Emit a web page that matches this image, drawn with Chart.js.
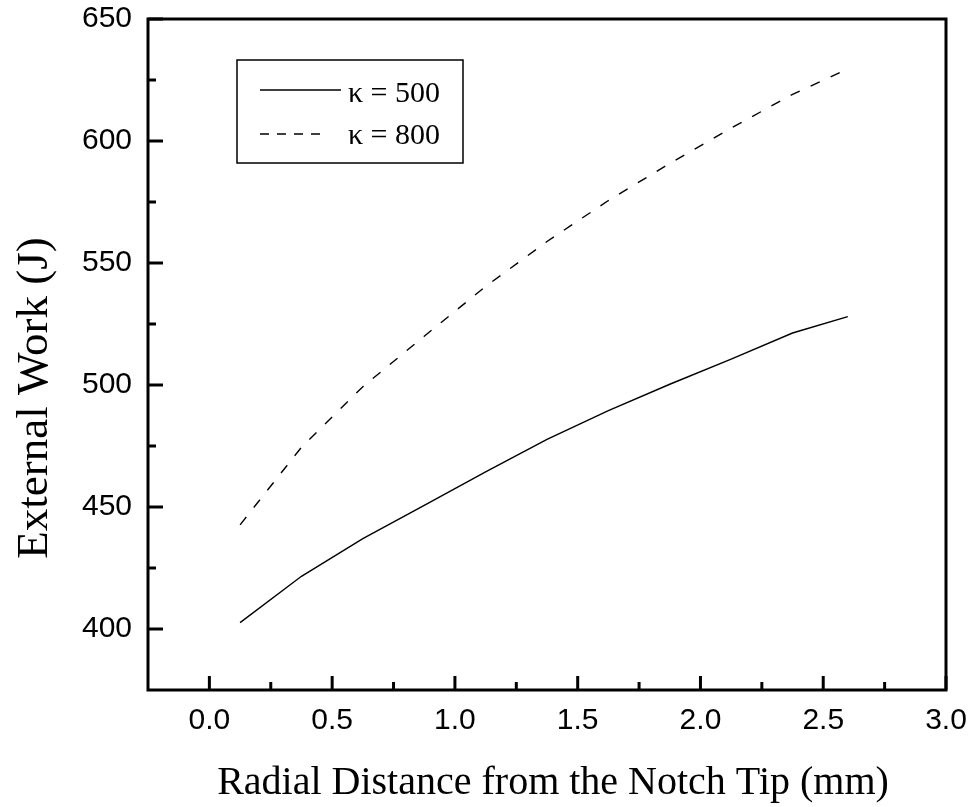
<!DOCTYPE html>
<html>
<head>
<meta charset="utf-8">
<script src="https://cdn.jsdelivr.net/npm/chart.js@4.4.1/dist/chart.umd.min.js"></script>
<style>
html,body{margin:0;padding:0;background:#fff;}
#wrap{width:970px;height:807px;}
</style>
</head>
<body>
<div id="wrap"><canvas id="c" width="970" height="807"></canvas></div>
<script>
const xValues = [0.125, 0.375, 0.625, 0.875, 1.125, 1.375, 1.625, 1.875, 2.125, 2.375, 2.6];
const work500 = [402.6, 421.6, 437.0, 450.7, 464.4, 477.7, 489.5, 500.3, 510.6, 521.3, 528.0];
const work800 = [442.7, 474.5, 499.3, 520.0, 540.4, 558.8, 575.6, 590.8, 605.3, 619.1, 629.5];
const seriesLabels = ['\u03BA = 500', '\u03BA = 800'];
const xMajorTicks = [0.0, 0.5, 1.0, 1.5, 2.0, 2.5, 3.0];
const xMinorTicks = [0.25, 0.75, 1.25, 1.75, 2.25, 2.75];
const yMajorTicks = [400, 450, 500, 550, 600, 650];
const yMinorTicks = [425, 475, 525, 575, 625];
const xTitle = 'Radial Distance from the Notch Tip (mm)';
const yTitle = 'External Work (J)';

const toPts = (xs, ys) => xs.map((v, i) => ({x: v, y: ys[i]}));
const noPad = s => { s.paddingTop = 0; s.paddingBottom = 0; s.paddingLeft = 0; s.paddingRight = 0; };

const framePlugin = {
  id: 'frame',
  afterDraw(chart) {
    const {ctx, chartArea: a, scales: {x, y}} = chart;
    ctx.save();
    ctx.strokeStyle = '#000';
    ctx.lineCap = 'butt';
    const seg = (x1, y1, x2, y2) => { ctx.beginPath(); ctx.moveTo(x1, y1); ctx.lineTo(x2, y2); ctx.stroke(); };
    // frame
    ctx.lineWidth = 3;
    ctx.strokeRect(a.left, a.top, a.right - a.left, a.bottom - a.top);
    ctx.lineWidth = 3;
    xMajorTicks.forEach(v => { const p = x.getPixelForValue(v); seg(p, a.bottom, p, a.bottom - 14); });
    xMinorTicks.forEach(v => { const p = x.getPixelForValue(v); seg(p, a.bottom, p, a.bottom - 8); });
    yMajorTicks.forEach(v => { const p = y.getPixelForValue(v); seg(a.left, p, a.left + 15, p); });
    yMinorTicks.forEach(v => { const p = y.getPixelForValue(v); seg(a.left, p, a.left + 8, p); });

    // legend
    ctx.lineWidth = 1.5;
    ctx.strokeRect(237, 60, 226, 103);
    ctx.lineWidth = 1.3;
    seg(260, 90, 341, 90);
    ctx.setLineDash([9, 8]);
    seg(260, 134, 327, 134);
    ctx.setLineDash([]);
    ctx.fillStyle = '#000';
    ctx.font = '30px "Liberation Serif", "Times New Roman", serif';
    ctx.textAlign = 'left';
    ctx.textBaseline = 'alphabetic';
    ctx.fillText(seriesLabels[0], 348, 102);
    ctx.fillText(seriesLabels[1], 348, 144);

    // axis titles
    ctx.textAlign = 'center';
    ctx.textBaseline = 'alphabetic';
    ctx.font = '40px "Liberation Serif", "Times New Roman", serif';
    ctx.fillText(xTitle, 553, 794);
    ctx.font = '45px "Liberation Serif", "Times New Roman", serif';
    ctx.translate(47, 398);
    ctx.rotate(-Math.PI / 2);
    ctx.fillText(yTitle, 0, 0);
    ctx.restore();
  }
};

new Chart(document.getElementById('c'), {
  type: 'line',
  data: {
    datasets: [
      {label: seriesLabels[0], data: toPts(xValues, work500), borderColor: '#000', borderWidth: 1.4, pointRadius: 0, tension: 0, fill: false},
      {label: seriesLabels[1], data: toPts(xValues, work800), borderColor: '#000', borderWidth: 1.4, borderDash: [10, 12], pointRadius: 0, tension: 0, fill: false}
    ]
  },
  options: {
    responsive: false,
    animation: false,
    devicePixelRatio: 1,
    layout: {padding: {left: 0, top: 19, right: 24, bottom: 0}},
    plugins: {legend: {display: false}, tooltip: {enabled: false}, title: {display: false}},
    scales: {
      x: {
        type: 'linear', min: -0.25, max: 3.0,
        afterFit: s => { s.height = 117; noPad(s); },
        afterBuildTicks: s => { s.ticks = xMajorTicks.map(v => ({value: v})); },
        grid: {display: false, drawTicks: false},
        border: {display: false},
        ticks: {color: '#000', font: {family: '"Liberation Sans", Arial, sans-serif', size: 30}, padding: 13, maxRotation: 0, autoSkip: false,
          callback: v => Number(v).toFixed(1)}
      },
      y: {
        type: 'linear', min: 375, max: 650,
        afterFit: s => { s.width = 148; noPad(s); },
        afterBuildTicks: s => { s.ticks = yMajorTicks.map(v => ({value: v})); },
        grid: {display: false, drawTicks: false},
        border: {display: false},
        ticks: {color: '#000', font: {family: '"Liberation Sans", Arial, sans-serif', size: 30}, padding: 16, autoSkip: false,
          callback: v => String(v)}
      }
    }
  },
  plugins: [framePlugin]
});
</script>
</body>
</html>
